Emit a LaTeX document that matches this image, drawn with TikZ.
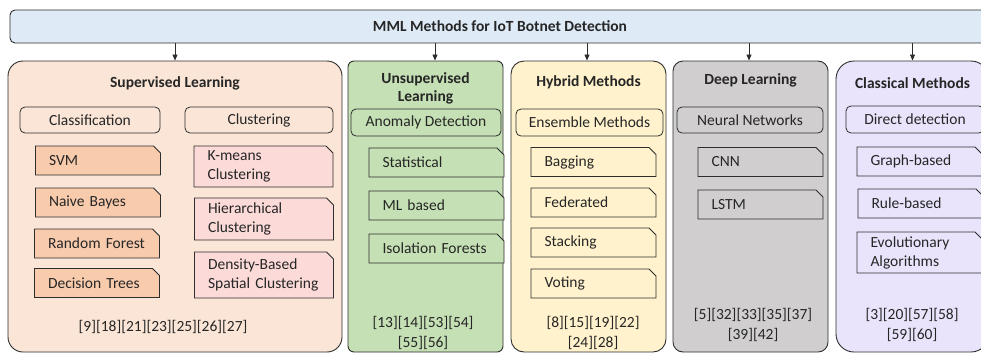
\documentclass[tikz,border=0pt]{standalone}
\usepackage{fontspec}
\setmainfont{Carlito}
\usepackage{tikz}
\usetikzlibrary{shapes.misc, arrows.meta, positioning}
\definecolor{linegray}{RGB}{45,45,45}
\definecolor{barblue}{RGB}{222,235,247}
\definecolor{suppeach}{RGB}{251,229,214}
\definecolor{unsgreen}{RGB}{197,224,180}
\definecolor{hybyellow}{RGB}{255,242,204}
\definecolor{deepgray}{RGB}{208,206,206}
\definecolor{clslav}{RGB}{233,228,252}
\definecolor{classorange}{RGB}{248,203,173}
\definecolor{clustpink}{RGB}{251,218,216}

\begin{document}
\begin{tikzpicture}[
    x=1pt, y=-1pt,
    every node/.style={font=\fontsize{15.5}{19}\selectfont, text=black!85},
    bar/.style={rectangle, draw=linegray, line width=0.9pt, rounded corners=5pt, fill=barblue, minimum width=980pt, minimum height=33pt},
    group/.style={rectangle, draw=linegray, line width=0.9pt, rounded corners=13pt, minimum height=291pt},
    gtitle/.style={font=\fontsize{15.5}{18}\selectfont\bfseries, align=center},
    cat/.style={rectangle, draw=linegray, line width=0.8pt, rounded corners=5pt, minimum height=26pt},
    leaf/.style={chamfered rectangle, chamfered rectangle corners=north east, chamfered rectangle xsep=3.5pt, chamfered rectangle ysep=3.5pt, draw=linegray, line width=0.9pt, align=left, inner xsep=10pt, inner ysep=0pt, minimum height=29pt},
    refs/.style={align=center, font=\fontsize{15.5}{20}\selectfont},
    arrow/.style={-{Triangle[length=6pt, width=5pt]}, linegray, line width=0.8pt}
]
\useasboundingbox (0,0) rectangle (981,354);
\clip (0,0) rectangle (981,354);

% Top bar
\node[bar] (root) at (500,26.5) {};
\node[font=\fontsize{15.5}{18}\selectfont\bfseries] at (root.center) {MML Methods for IoT Botnet Detection};

% Supervised
\node[group, fill=suppeach, minimum width=334pt, rounded corners=15pt] (sup) at (175,206.5) {};
\node[gtitle] (suptitle) at (175,83) {Supervised Learning};
\node[cat, minimum width=140pt] (classif) at (90,120) {Classification};
\node[cat, minimum width=148pt] (clust) at (259,120) {Clustering};
\node[leaf, fill=classorange, text width=98pt] (svm) at (98,160.5) {SVM};
\node[leaf, fill=classorange, text width=98pt] (nb) at (98,202.5) {Naive Bayes};
\node[leaf, fill=classorange, text width=98pt] (rf) at (97,243.5) {Random Forest};
\node[leaf, fill=classorange, text width=98pt] (dt) at (97,283) {Decision Trees};
\node[leaf, fill=clustpink, text width=112pt, minimum height=41pt] (kmeans) at (263.5,166.5) {K-means\\Clustering};
\node[leaf, fill=clustpink, text width=112pt, minimum height=42pt] (hier) at (264,219) {Hierarchical\\Clustering};
\node[leaf, fill=clustpink, text width=112pt, minimum height=46pt] (dbscan) at (264,275) {Density-Based\\Spatial Clustering};
\node[refs] (supref) at (163,327) {[9][18][21][23][25][26][27]};

% Unsupervised
\node[group, fill=unsgreen, minimum width=155pt, rounded corners=6pt] (uns) at (425.5,206.5) {};
\node[gtitle] (unstitle) at (425.5,88) {Unsupervised\\Learning};
\node[cat, minimum width=150pt, minimum height=27pt] (anom) at (426,122.5) {Anomaly Detection};
\node[leaf, fill=unsgreen, text width=108pt] (stat) at (436.5,162.5) {Statistical};
\node[leaf, fill=unsgreen, text width=108pt] (mlb) at (436.5,205.5) {ML based};
\node[leaf, fill=unsgreen, text width=108pt] (iso) at (436.5,248.5) {Isolation Forests};
\node[refs] (unsref) at (423,333) {[13][14][53][54]\\{}[55][56]};

% Hybrid
\node[group, fill=hybyellow, minimum width=155pt] (hyb) at (588.5,206.5) {};
\node[gtitle] (hybtitle) at (588.5,82) {Hybrid Methods};
\node[cat, minimum width=147pt, minimum height=27pt] (ens) at (589.5,122.5) {Ensemble Methods};
\node[leaf, fill=hybyellow, text width=98pt] (bag) at (593.5,162) {Bagging};
\node[leaf, fill=hybyellow, text width=98pt] (fed) at (593.5,202.5) {Federated};
\node[leaf, fill=hybyellow, text width=98pt] (stack) at (593.5,242.5) {Stacking};
\node[leaf, fill=hybyellow, text width=98pt] (vote) at (593.5,283.5) {Voting};
\node[refs] (hybref) at (593,333) {[8][15][19][22]\\{}[24][28]};

% Deep learning
\node[group, fill=deepgray, minimum width=155pt, rounded corners=10pt] (deep) at (750.5,206.5) {};
\node[gtitle] (deeptitle) at (750.5,80) {Deep Learning};
\node[cat, minimum width=146pt] (nn) at (750,120) {Neural Networks};
\node[leaf, fill=deepgray, text width=98pt] (cnn) at (760.5,162) {CNN};
\node[leaf, fill=deepgray, text width=98pt] (lstm) at (760.5,204.5) {LSTM};
\node[refs] (deepref) at (753,325) {[5][32][33][35][37]\\{}[39][42]};

% Classical
\node[group, fill=clslav, minimum width=153pt, rounded corners=18pt] (cls) at (912.5,206.5) {};
\node[gtitle] (clstitle) at (912.5,83) {Classical Methods};
\node[cat, minimum width=138pt, minimum height=27pt] (direct) at (915,119.5) {Direct detection};
\node[leaf, fill=clslav, text width=98pt] (graph) at (919.5,161.5) {Graph-based};
\node[leaf, fill=clslav, text width=98pt] (rule) at (920.5,203.5) {Rule-based};
\node[leaf, fill=clslav, text width=98pt, minimum height=41pt] (evo) at (919.5,252.5) {Evolutionary\\Algorithms};
\node[refs] (clsref) at (912,325) {[3][20][57][58]\\{}[59][60]};

% Arrows from the top bar
\coordinate (unsin) at ([xshift=9.5pt]uns.north);
\coordinate (hybin) at ([xshift=-1.5pt]hyb.north);
\coordinate (deepin) at ([xshift=-1.5pt]deep.north);
\draw[arrow] (root.south -| sup.north) -- (sup.north);
\draw[arrow] (root.south -| unsin) -- (unsin);
\draw[arrow] (root.south -| hybin) -- (hybin);
\draw[arrow] (root.south -| deepin) -- (deepin);
\draw[arrow] (root.south -| cls.north) -- (cls.north);

\end{tikzpicture}
\end{document}
